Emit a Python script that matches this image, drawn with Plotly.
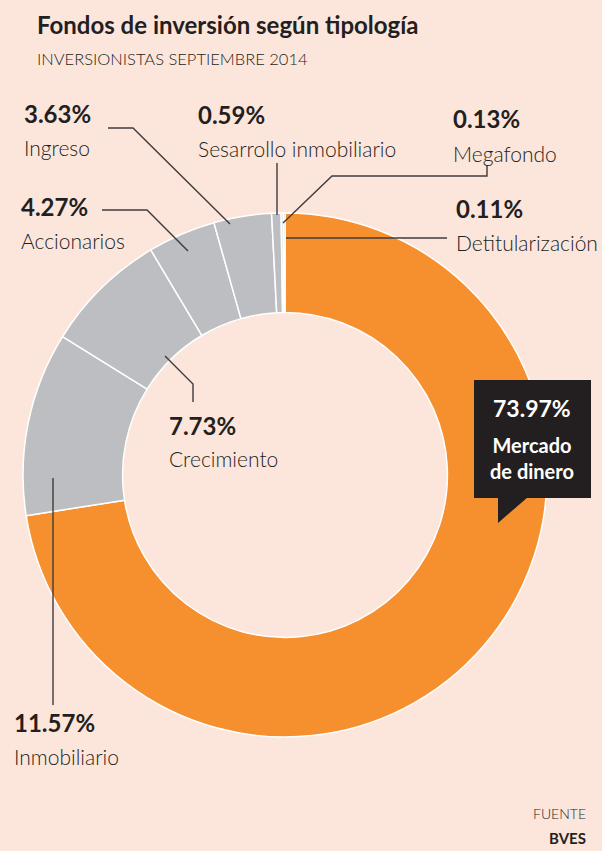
import plotly.graph_objects as go

W, H = 602, 851

# ---- data ----
categories = ["Mercado de dinero", "Inmobiliario", "Crecimiento", "Accionarios",
              "Ingreso", "Sesarrollo inmobiliario", "Megafondo", "Detitularización"]
values = [73.97, 11.57, 7.73, 4.27, 3.63, 0.59, 0.13, 0.11]
colors = ["#F68F2E", "#BDBEC1", "#BDBEC1", "#BDBEC1", "#BDBEC1", "#BDBEC1", "#BDBEC1", "#BDBEC1"]

title = "Fondos de inversión según tipología"
subtitle = "INVERSIONISTAS SEPTIEMBRE 2014"
source_head = "FUENTE"
source = "BVES"

BG = "#FCE6DC"
DARK = "#231F20"
LINE = "#3F3B3C"
FONT = "Lato"


def px(x):
    return x / W


def py(y):
    return 1 - y / H


# donut geometry (pixels)
cx, cy, R = 285, 475, 262

fig = go.Figure(go.Pie(
    labels=categories,
    values=values,
    sort=False,
    direction="clockwise",
    rotation=0,
    hole=0.62,
    marker=dict(colors=colors, line=dict(color="white", width=1.5)),
    textinfo="none",
    hoverinfo="label+percent",
    showlegend=False,
    domain=dict(x=[px(cx - R), px(cx + R)], y=[py(cy + R), py(cy - R)]),
))

# label positions (pixel coords, left x, centre y of percent line)
label_pos = {
    "Inmobiliario": (12, 722),
    "Crecimiento": (167, 425),
    "Accionarios": (19, 207),
    "Ingreso": (22, 113),
    "Sesarrollo inmobiliario": (196, 115),
    "Megafondo": (451, 119),
    "Detitularización": (454, 208),
}

ann = []
for cat, v in zip(categories, values):
    if cat not in label_pos:
        continue
    x, y = label_pos[cat]
    ann.append(dict(x=px(x), y=py(y), xref="paper", yref="paper", xanchor="left",
                    yanchor="middle", showarrow=False, text=f"<b>{v:.2f}%</b>",
                    font=dict(family=FONT, size=24, color=DARK)))
    ann.append(dict(x=px(x), y=py(y + 34), xref="paper", yref="paper", xanchor="left",
                    yanchor="middle", showarrow=False, text=cat,
                    font=dict(family=FONT, size=21, color=DARK, weight=300)))

# callout for the main slice
ann.append(dict(x=px(532), y=py(408), xref="paper", yref="paper", xanchor="center",
                yanchor="middle", showarrow=False,
                text=f"<b>{values[0]:.2f}%</b>",
                font=dict(family=FONT, size=23, color="white")))
ann.append(dict(x=px(532), y=py(458), xref="paper", yref="paper", xanchor="center",
                yanchor="middle", showarrow=False, align="center",
                text="<b>Mercado</b><br><b>de dinero</b>",
                font=dict(family=FONT, size=20, color="white")))

# title / subtitle / source
ann.append(dict(x=px(35), y=py(24), xref="paper", yref="paper", xanchor="left",
                yanchor="middle", showarrow=False, text=f"<b>{title}</b>",
                font=dict(family=FONT, size=24, color=DARK)))
ann.append(dict(x=px(35), y=py(59), xref="paper", yref="paper", xanchor="left",
                yanchor="middle", showarrow=False, text=subtitle,
                font=dict(family=FONT, size=16.5, color=DARK, weight=300)))
ann.append(dict(x=px(588), y=py(813), xref="paper", yref="paper", xanchor="right",
                yanchor="middle", showarrow=False, text=source_head,
                font=dict(family=FONT, size=14, color=DARK, weight=300)))
ann.append(dict(x=px(588), y=py(838), xref="paper", yref="paper", xanchor="right",
                yanchor="middle", showarrow=False, text=f"<b>{source}</b>",
                font=dict(family=FONT, size=15, color=DARK)))


def path(points):
    s = "M " + " L ".join(f"{px(x):.5f},{py(y):.5f}" for x, y in points)
    return s


leaders = [
    [(53, 478), (53, 705)],                       # Inmobiliario
    [(165, 356), (193, 384), (193, 402)],         # Crecimiento
    [(102, 210), (147, 210), (188, 251)],         # Accionarios
    [(108, 128), (133, 128), (230, 224)],         # Ingreso
    [(277, 163), (277, 215)],                     # Desarrollo
    [(487, 165), (487, 176), (332, 176), (283, 223)],  # Megafondo
    [(286, 238), (447, 238)],                     # Detitularización
]

shapes = []
for pts in leaders:
    shapes.append(dict(type="path", xref="paper", yref="paper", path=path(pts),
                       line=dict(color=LINE, width=1.4)))

# black callout box + pointer
shapes.append(dict(type="rect", xref="paper", yref="paper",
                   x0=px(474), x1=px(591), y0=py(498), y1=py(380),
                   fillcolor=DARK, line=dict(width=0)))
shapes.append(dict(type="path", xref="paper", yref="paper",
                   path=path([(498, 497), (498, 523), (528, 497)]) + " Z",
                   fillcolor=DARK, line=dict(width=0)))

fig.update_layout(
    width=W, height=H,
    margin=dict(l=0, r=0, t=0, b=0),
    paper_bgcolor=BG, plot_bgcolor=BG,
    annotations=ann, shapes=shapes,
    font=dict(family=FONT),
)

fig.write_html("out.html")
